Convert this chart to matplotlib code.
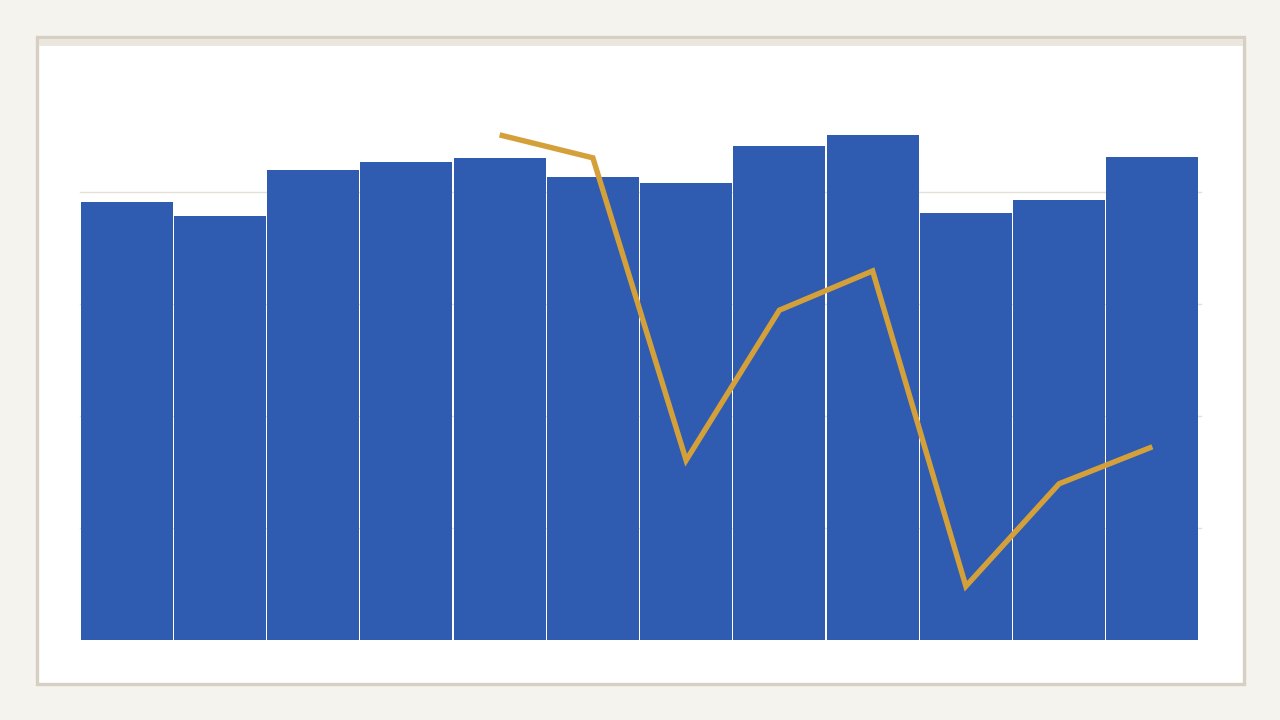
import matplotlib.pyplot as plt
import numpy as np
from matplotlib.patches import Rectangle

# bar values (left axis) and line values (same scale, starts at 5th bar)
bar_values = [78.2, 75.7, 83.9, 85.4, 86.1, 82.7, 81.6, 88.2, 90.2, 76.3, 78.6, 86.3]
line_values = [np.nan, np.nan, np.nan, np.nan, 90.2, 86.1, 32.1, 58.9, 65.9, 9.6, 27.9, 34.5]
y_ticks = [0, 20, 40, 60, 80]

bar_color = '#2f5bb0'
line_color = '#d4a03a'
page_bg = '#f5f3ee'

fig = plt.figure(figsize=(12.8, 7.2), dpi=100)
fig.patch.set_facecolor(page_bg)

W, H = 1280, 720

# white card with border and top strip (behind the axes)
card = Rectangle((37 / W, 1 - 684 / H), (1244 - 37) / W, (684 - 37) / H,
                 transform=fig.transFigure, facecolor='white', edgecolor='#d5cfc4',
                 linewidth=2.4, zorder=-2)
fig.patches.append(card)
strip = Rectangle((38.5 / W, 1 - 46 / H), (1242.5 - 38.5) / W, 7.5 / H,
                  transform=fig.transFigure, facecolor='#ebe7de', edgecolor='none', zorder=-1)
fig.patches.append(strip)

ax = fig.add_axes([80 / W, 1 - 640 / H, (1199 - 80) / W, (640 - 80) / H])
ax.set_facecolor('none')
ax.set_zorder(1)

x = np.arange(len(bar_values))
ax.bar(x, bar_values, width=0.985, color=bar_color, linewidth=0, zorder=2)
ax.plot(x, line_values, color=line_color, linewidth=3.9, solid_capstyle='butt',
        solid_joinstyle='miter', zorder=3)

for t in y_ticks[1:]:
    ax.axhline(t, color='#e4e0d6', linewidth=1.0, zorder=1, xmin=0, xmax=1.002, clip_on=False)

ax.set_xlim(-0.5, len(bar_values) - 0.5)
ax.set_ylim(0, 100)
ax.set_xticks([])
ax.set_yticks([])
for s in ax.spines.values():
    s.set_visible(False)

fig.savefig('out.png', dpi=100, facecolor=fig.get_facecolor())
